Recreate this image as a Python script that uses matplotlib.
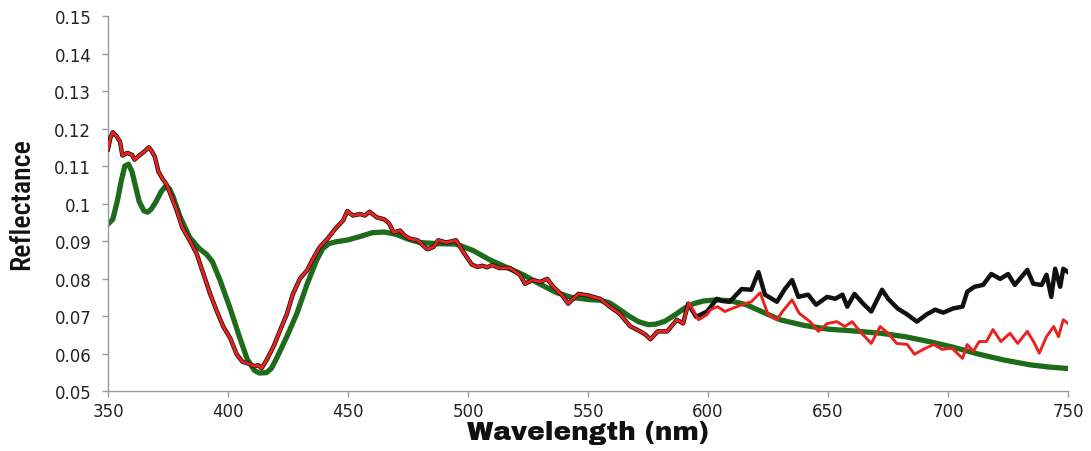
import matplotlib
matplotlib.use("Agg")
import matplotlib.pyplot as plt

# green (smooth model curve)
green_wl = [350, 352, 354, 355.5, 357, 358.5, 360, 361.5, 363, 365, 366.5, 368, 370, 372,
            373.8, 375.5, 377, 380, 384, 388, 391, 393.5, 396.7, 400.8, 405, 408, 411, 413,
            416, 418, 420, 424.5, 428.7, 433, 437, 439.5, 442, 445, 450, 455, 460, 465, 470,
            475, 480, 487, 495, 502, 509, 516, 523, 530, 537, 543, 550, 555, 559, 563, 567,
            571, 575, 578, 582, 586, 590, 594, 598, 603, 609, 616, 623, 630, 640, 650, 661,
            672, 682, 692, 702, 713, 723, 734, 742, 750]
green_r = [0.0945, 0.0958, 0.1010, 0.1060, 0.1100, 0.1105, 0.1085, 0.1045, 0.1005, 0.0980,
           0.0977, 0.0985, 0.1005, 0.1030, 0.1045, 0.1040, 0.1020, 0.0965, 0.0910, 0.0880,
           0.0865, 0.0845, 0.0795, 0.0722, 0.0640, 0.0585, 0.0555, 0.0548, 0.0549, 0.0560,
           0.0584, 0.0645, 0.0707, 0.0786, 0.0850, 0.0880, 0.0893, 0.0898, 0.0903, 0.0912,
           0.0922, 0.0924, 0.0918, 0.0905, 0.0896, 0.0893, 0.0892, 0.0875, 0.0850, 0.0830,
           0.0810, 0.0785, 0.0762, 0.0750, 0.0744, 0.0742, 0.0735, 0.0718, 0.0700, 0.0685,
           0.0677, 0.0678, 0.0686, 0.0702, 0.0720, 0.0733, 0.0740, 0.0743, 0.0741, 0.0730,
           0.0710, 0.0690, 0.0675, 0.0665, 0.0660, 0.0654, 0.0645, 0.0632, 0.0617, 0.0598,
           0.0583, 0.0570, 0.0564, 0.0560]

# measured spectra: black and red coincide up to ~590 nm
common_wl = [350, 351, 352, 353.5, 355, 356, 358, 360, 361, 363, 365, 367, 368, 369.5, 371,
             373, 374.5, 376, 378.6, 381, 384, 387, 389.6, 392.5, 395, 398, 401, 403.6, 406,
             409, 411, 412.5, 414, 416, 419, 421.7, 424.5, 427, 430, 433, 435, 438, 441.7,
             445, 448, 449.7, 452, 455, 457, 459, 462, 465, 467, 469, 471.7, 473.5, 475.8,
             479, 483, 485.6, 487.6, 491, 493, 495, 498, 501.6, 504, 506, 508, 510, 513,
             517.5, 521.7, 523.7, 527, 530, 533, 535.5, 539, 541.7, 546, 550, 555, 559, 563,
             567.5, 571.7, 574, 576, 579, 583, 587, 589.6]
common_r = [0.1145, 0.1175, 0.1190, 0.1180, 0.1165, 0.1128, 0.1135, 0.1130, 0.1117, 0.1128,
            0.1138, 0.1150, 0.1142, 0.1125, 0.1085, 0.1063, 0.1050, 0.1025, 0.0982, 0.0935,
            0.0902, 0.0865, 0.0815, 0.0760, 0.0718, 0.0672, 0.0640, 0.0598, 0.0578, 0.0572,
            0.0566, 0.0569, 0.0561, 0.0582, 0.0619, 0.0662, 0.0705, 0.0758, 0.0800, 0.0822,
            0.0848, 0.0882, 0.0908, 0.0935, 0.0955, 0.0980, 0.0968, 0.0972, 0.0968, 0.0978,
            0.0963, 0.0958, 0.0948, 0.0923, 0.0928, 0.0915, 0.0906, 0.0902, 0.0878, 0.0884,
            0.0902, 0.0896, 0.0899, 0.0902, 0.0871, 0.0837, 0.0831, 0.0834, 0.0830, 0.0836,
            0.0828, 0.0828, 0.0809, 0.0786, 0.0796, 0.0791, 0.0799, 0.0778, 0.0757, 0.0733,
            0.0759, 0.0755, 0.0746, 0.0725, 0.0707, 0.0673, 0.0659, 0.0650, 0.0638, 0.0659,
            0.0659, 0.0690, 0.0680]

red_tail_wl = [592, 594, 596, 599.6, 601, 604, 607, 610, 614, 618, 621.7, 625, 628.7, 631,
               635, 638, 642.5, 646, 649.6, 653.7, 657, 660, 664, 668, 671.7, 675, 678.6,
               683, 686, 689.6, 694, 697.5, 701.7, 706, 708, 710.5, 713, 716, 718.7, 722,
               725.8, 729, 733, 735.6, 738, 741, 744, 746, 748, 750]
red_tail_r = [0.0735, 0.0712, 0.0690, 0.0704, 0.0717, 0.0725, 0.0712, 0.0720, 0.0730, 0.0738,
              0.0762, 0.0704, 0.0690, 0.0712, 0.0743, 0.0707, 0.0685, 0.0659, 0.0680, 0.0685,
              0.0672, 0.0685, 0.0654, 0.0627, 0.0672, 0.0654, 0.0627, 0.0624, 0.0598, 0.0611,
              0.0624, 0.0611, 0.0614, 0.0587, 0.0624, 0.0606, 0.0632, 0.0632, 0.0664, 0.0632,
              0.0654, 0.0627, 0.0659, 0.0632, 0.0601, 0.0645, 0.0672, 0.0645, 0.0690, 0.0680]

black_tail_wl = [591.7, 595, 599.6, 603.7, 606, 609, 614, 618, 621, 623.7, 628.7, 632, 635,
                 637.6, 641.7, 645, 649.6, 653, 656, 658, 661, 664.6, 668, 672.5, 675, 679,
                 683, 687, 691, 694.6, 698, 702, 706, 708, 711, 714.6, 718, 721.7, 725, 727.8,
                 733, 735.5, 739, 741, 743, 744.6, 746.7, 748, 750]
black_tail_r = [0.0733, 0.0698, 0.0712, 0.0746, 0.0740, 0.0738, 0.0772, 0.0770, 0.0817,
                0.0757, 0.0738, 0.0772, 0.0796, 0.0751, 0.0757, 0.0730, 0.0751, 0.0746,
                0.0757, 0.0725, 0.0759, 0.0733, 0.0712, 0.0770, 0.0746, 0.0720, 0.0704,
                0.0685, 0.0704, 0.0717, 0.0709, 0.0720, 0.0725, 0.0765, 0.0778, 0.0783,
                0.0812, 0.0799, 0.0812, 0.0783, 0.0823, 0.0786, 0.0783, 0.0810, 0.0751,
                0.0826, 0.0778, 0.0826, 0.0817]

x_ticks = [350, 400, 450, 500, 550, 600, 650, 700, 750]
y_ticks = [0.05, 0.06, 0.07, 0.08, 0.09, 0.1, 0.11, 0.12, 0.13, 0.14, 0.15]
y_ticklabels = ["0.05", "0.06", "0.07", "0.08", "0.09", "0.1", "0.11", "0.12", "0.13",
                "0.14", "0.15"]

fig = plt.figure(figsize=(10.91, 4.52), dpi=100)
ax = fig.add_axes([0.099, 0.1327, 0.880, 0.8296])

ax.plot(green_wl, green_r, color="#1f6b1c", lw=3.8, solid_capstyle="round", zorder=2)
ax.plot(common_wl + black_tail_wl, common_r + black_tail_r, color="#111111", lw=3.2,
        solid_joinstyle="round", zorder=3)
ax.plot(common_wl + red_tail_wl, common_r + red_tail_r, color="#e8231f", lw=2.1,
        solid_joinstyle="round", zorder=4)

ax.set_xlim(350, 750)
ax.set_ylim(0.05, 0.15)
ax.set_xticks(x_ticks)
ax.set_yticks(y_ticks)
ax.set_yticklabels(y_ticklabels)
for side in ("top", "right"):
    ax.spines[side].set_visible(False)
for side in ("left", "bottom"):
    ax.spines[side].set_color("#999999")
    ax.spines[side].set_linewidth(1.0)
ax.tick_params(direction="out", length=4, width=1, color="#999999",
               labelsize=12, labelcolor="#222222")
ax.tick_params(axis="y", pad=8)
ax.tick_params(axis="x", pad=4)

ax.set_xlabel("Wavelength (nm)", fontsize=19, color="#111111",
              family=["Archivo Black", "DejaVu Sans"], labelpad=0)
ax.set_ylabel("Reflectance", fontsize=20, fontweight=500, color="#111111",
              family=["Roboto Condensed", "DejaVu Sans"], labelpad=14)

fig.savefig("out.png", dpi=100)
